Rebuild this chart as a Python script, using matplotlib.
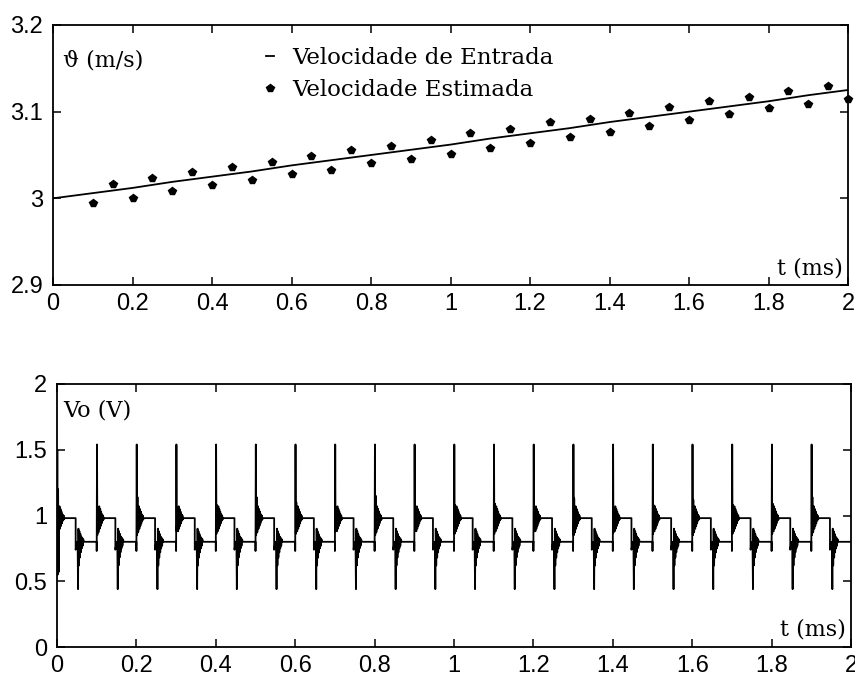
import numpy as np
import matplotlib
matplotlib.use("Agg")
import matplotlib.pyplot as plt
from matplotlib.lines import Line2D

# ---- top plot data ----
t_in = [0.0, 0.1, 0.2, 0.3, 0.4, 0.5, 0.6, 0.7, 0.8, 0.9, 1.0,
        1.1, 1.2, 1.3, 1.4, 1.5, 1.6, 1.7, 1.8, 1.9, 2.0]
v_in = [3.000, 3.006, 3.012, 3.019, 3.025, 3.031, 3.038, 3.044, 3.050, 3.056, 3.062,
        3.069, 3.075, 3.081, 3.088, 3.094, 3.100, 3.106, 3.112, 3.119, 3.125]

t_est = [0.10, 0.15, 0.20, 0.25, 0.30, 0.35, 0.40, 0.45, 0.50, 0.55,
         0.60, 0.65, 0.70, 0.75, 0.80, 0.85, 0.90, 0.95, 1.00, 1.05,
         1.10, 1.15, 1.20, 1.25, 1.30, 1.35, 1.40, 1.45, 1.50, 1.55,
         1.60, 1.65, 1.70, 1.75, 1.80, 1.85, 1.90, 1.95, 2.00]
v_est = [2.995, 3.017, 3.000, 3.023, 3.008, 3.030, 3.015, 3.036, 3.021, 3.042,
         3.028, 3.049, 3.033, 3.056, 3.041, 3.060, 3.045, 3.067, 3.051, 3.075,
         3.058, 3.080, 3.064, 3.088, 3.071, 3.092, 3.077, 3.098, 3.084, 3.105,
         3.090, 3.112, 3.097, 3.117, 3.104, 3.124, 3.109, 3.130, 3.115]

# ---- bottom plot data: one switching period ----
period_start = [0.0, 0.1, 0.2, 0.3, 0.4, 0.5, 0.6, 0.7, 0.8, 0.9,
                1.0, 1.1, 1.2, 1.3, 1.4, 1.5, 1.6, 1.7, 1.8, 1.9]
spike_hi = [1.50, 1.54, 1.54, 1.54, 1.54, 1.54, 1.54, 1.54, 1.54, 1.54,
            1.54, 1.54, 1.54, 1.54, 1.54, 1.54, 1.54, 1.54, 1.54, 1.54]
ring_hi = [1.20, 1.06, 1.14, 1.04, 1.08, 1.14, 1.10, 1.06, 1.15, 1.05,
           1.08, 1.09, 1.03, 1.13, 1.06, 1.08, 1.12, 1.08, 1.09, 1.14]
ring_lo = [0.55, 0.85, 0.85, 0.88, 0.86, 0.85, 0.86, 0.88, 0.85, 0.88,
           0.86, 0.86, 0.88, 0.85, 0.87, 0.86, 0.85, 0.86, 0.86, 0.85]
# relative times within the period (ms)
tau_up = [0.0000, 0.0000, 0.0008, 0.0016, 0.0028, 0.0040, 0.0052, 0.0064, 0.0076,
          0.0088, 0.0100, 0.0112, 0.0124, 0.0136, 0.0148, 0.0160, 0.0172, 0.0190]
v_ring_tail = [0.88, 1.07, 0.90, 1.05, 0.92, 1.03, 0.94, 1.01, 0.96, 1.00, 0.97, 0.98]
tau_dn = [0.0470, 0.0470, 0.0500, 0.0520, 0.0530, 0.0540, 0.0552, 0.0564, 0.0576,
          0.0588, 0.0600, 0.0612, 0.0624, 0.0636, 0.0648, 0.0660, 0.0680, 0.1000]
v_dn = [0.98, 0.74, 0.80, 0.78, 0.44, 0.90, 0.62, 0.88, 0.68, 0.86,
        0.72, 0.84, 0.75, 0.83, 0.77, 0.82, 0.80, 0.80]

t_vo, v_vo = [], []
for k, t0 in enumerate(period_start):
    v_up = [0.80, 0.73, spike_hi[k], ring_lo[k], ring_hi[k], ring_lo[k] + 0.02] + v_ring_tail
    if k == 0:
        v_up[0] = 0.55
    for a, b in zip(tau_up, v_up):
        t_vo.append(t0 + a)
        v_vo.append(b)
    for a, b in zip(tau_dn, v_dn):
        t_vo.append(t0 + a)
        v_vo.append(b)

tick_font = {'family': 'Liberation Sans', 'size': 17}
serif = ['DejaVu Serif']

fig = plt.figure(figsize=(8.55, 6.78), dpi=100)
ax1 = fig.add_axes([53/855, 1-285/678, (848-53)/855, (285-25)/678])
ax2 = fig.add_axes([57/855, 1-647/678, (851-57)/855, (647-384)/678])

xt = [0, 0.2, 0.4, 0.6, 0.8, 1, 1.2, 1.4, 1.6, 1.8, 2]
xtl = ['0', '0.2', '0.4', '0.6', '0.8', '1', '1.2', '1.4', '1.6', '1.8', '2']

# top plot
ax1.plot(t_in, v_in, color='black', lw=1.3)
ax1.plot(t_est, v_est, ls='none', marker='p', ms=6, color='black', clip_on=False)
ax1.set_xlim(0, 2)
ax1.set_ylim(2.9, 3.2)
ax1.set_yticks([2.9, 3.0, 3.1, 3.2])
ax1.set_yticklabels(['2.9', '3', '3.1', '3.2'], fontdict=tick_font)
ax1.set_xticks(xt)
ax1.set_xticklabels(xtl, fontdict=tick_font)
ax1.text(0.012, 0.865, 'ϑ (m/s)', transform=ax1.transAxes, family=serif,
         fontsize=16, va='center', ha='left')
ax1.text(0.994, 0.065, 't (ms)', transform=ax1.transAxes, family=serif,
         fontsize=16, va='center', ha='right')
handles = [Line2D([], [], color='black', lw=1.3),
           Line2D([], [], ls='none', marker='p', ms=6, color='black')]
ax1.legend(handles, ['Velocidade de Entrada', 'Velocidade Estimada'],
           loc='upper left', bbox_to_anchor=(0.268, 0.915), frameon=False,
           borderpad=0, borderaxespad=0, handlelength=0.35, handletextpad=0.8,
           labelspacing=0.45, prop={'family': serif, 'size': 16.5})

# bottom plot
ax2.plot(t_vo, v_vo, color='black', lw=1.3)
ax2.set_xlim(0, 2)
ax2.set_ylim(0, 2)
ax2.set_yticks([0, 0.5, 1, 1.5, 2])
ax2.set_yticklabels(['0', '0.5', '1', '1.5', '2'], fontdict=tick_font)
ax2.set_xticks(xt)
ax2.set_xticklabels(xtl, fontdict=tick_font)
ax2.text(0.008, 0.90, 'Vo (V)', transform=ax2.transAxes, family=serif,
         fontsize=16, va='center', ha='left')
ax2.text(0.994, 0.065, 't (ms)', transform=ax2.transAxes, family=serif,
         fontsize=16, va='center', ha='right')

for ax in (ax1, ax2):
    ax.tick_params(direction='in', top=True, right=True, length=5.5, width=1.1)
    ax.tick_params(axis='x', pad=6)
    ax.tick_params(axis='y', pad=7)
    for s in ax.spines.values():
        s.set_linewidth(1.3)

fig.savefig('out.png', dpi=100)
